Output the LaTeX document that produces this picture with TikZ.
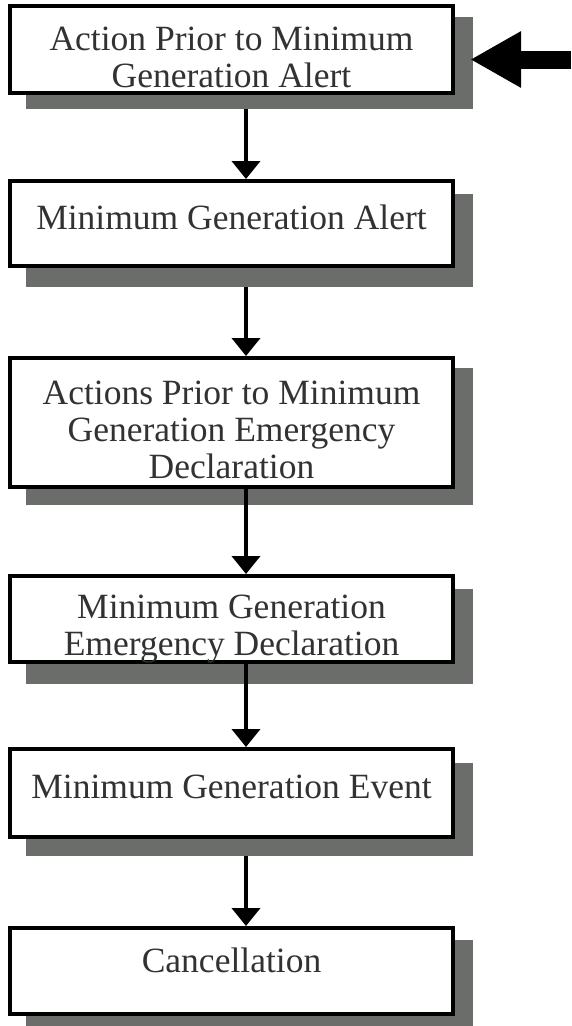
\documentclass[tikz,border=0pt]{standalone}
\usepackage{fontspec}
\setmainfont{Liberation Serif}
\usetikzlibrary{arrows.meta}

\definecolor{shadowgray}{RGB}{107,109,106}
\definecolor{inkgray}{RGB}{50,50,50}

\tikzset{
  stagebox/.style={draw=black, line width=4pt, fill=white, inner sep=0pt,
    minimum width=443pt},
  dropshade/.style={fill=shadowgray, draw=none, inner sep=0pt,
    minimum width=447pt},
  stagetext/.style={align=center, text=inkgray, inner sep=0pt,
    font=\fontsize{35.5}{37}\selectfont},
  flow/.style={line width=4pt, -{Triangle[width=28pt,length=18pt]}},
  pointer/.style={line width=18pt, -{Triangle[width=53pt,length=51pt]}},
}

\begin{document}
\begin{tikzpicture}[x=1pt, y=-1pt]
\useasboundingbox (0,0) rectangle (571,1026);
\begin{scope}
\clip (0,0) rectangle (571,1026);

% drop shadows behind each stage
\node[dropshade, minimum height=92pt]  (s1) at (249.5,63)    {};
\node[dropshade, minimum height=93pt]  (s2) at (249.5,240.5) {};
\node[dropshade, minimum height=137pt] (s3) at (249.5,436.5) {};
\node[dropshade, minimum height=95pt]  (s4) at (249.5,636.5) {};
\node[dropshade, minimum height=93pt]  (s5) at (249.5,809.5) {};
\node[dropshade, minimum height=90pt]  (s6) at (249.5,985)   {};

% vertical spine carrying the flow arrows
\coordinate (spine) at (246,0);

% stage boxes
\node[stagebox, minimum height=87pt]  (b1) at (231.5,49.5)  {};
\node[stagebox, minimum height=85pt]  (b2) at (231.5,223.5) {};
\node[stagebox, minimum height=129pt] (b3) at (231.5,422.5) {};
\node[stagebox, minimum height=86pt]  (b4) at (231.5,619)   {};
\node[stagebox, minimum height=88pt]  (b5) at (231.5,793)   {};
\node[stagebox, minimum height=86pt]  (b6) at (231.5,971)   {};

% flow between stages
\draw[flow] (spine |- s1.south) -- (spine |- b2.north);
\draw[flow] (spine |- s2.south) -- (spine |- b3.north);
\draw[flow] (spine |- b3.south) -- (spine |- b4.north);
\draw[flow] (spine |- b4.south) -- (spine |- b5.north);
\draw[flow] (spine |- s5.south) -- (spine |- b6.north);

% stage labels
\node[stagetext] (t1) at (231.5,57)  {Action Prior to Minimum\\Generation Alert};
\node[stagetext] (t2) at (231.5,217) {Minimum Generation Alert};
\node[stagetext] (t3) at (231.5,430) {Actions Prior to Minimum\\Generation Emergency\\Declaration};
\node[stagetext] (t4) at (231.5,629) {Minimum Generation\\Emergency Declaration};
\node[stagetext] (t5) at (231.5,787) {Minimum Generation Event};
\node[stagetext] (t6) at (231.5,960) {Cancellation};

% entry pointer into the first stage
\coordinate (feed) at (571,59.5);
\draw[pointer] (feed) -- ([xshift=-3pt]feed -| s1.east);
\end{scope}
\end{tikzpicture}
\end{document}
